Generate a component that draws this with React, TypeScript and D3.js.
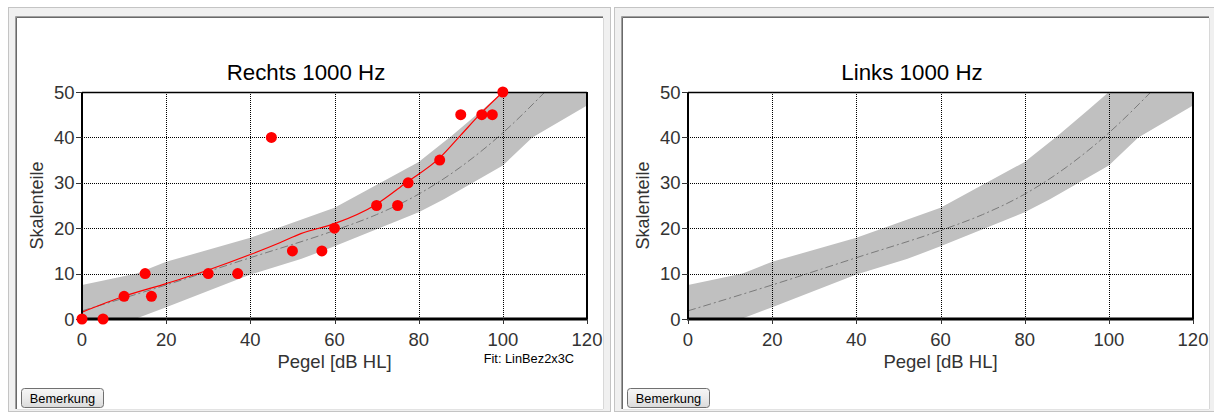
import React from "react";
import * as d3 from "d3";

const xTicks = [0, 20, 40, 60, 80, 100, 120];
const yTicks = [0, 10, 20, 30, 40, 50];

const upperX = [0, 13, 20, 40, 60, 80, 88, 95, 100, 120];
const upperY = [7.5, 10, 12.6, 17.9, 24.5, 34.6, 40.5, 46, 50, 62];
const lowerX = [0, 12.6, 20, 40, 52, 60, 80, 86, 100, 107, 120];
const lowerY = [-4, 0, 2.6, 9.8, 13.2, 16, 23.5, 26.4, 33.8, 40, 47];
const midX = [0, 20, 40, 60, 70, 80, 90, 100, 110];
const midY = [1.8, 7.5, 13.5, 19.5, 23, 27.5, 33.5, 41, 50];

const fitX = [0, 10, 20, 30, 40, 47, 52, 60, 70, 77, 85, 90, 95, 100];
const fitY = [1.5, 5, 7.8, 10.8, 14.2, 16.8, 18.8, 21, 25.3, 30, 35.5, 40.5, 45.5, 50];

const ptsX = [0, 5, 10, 15, 16.5, 30, 37, 45, 50, 57, 60, 70, 75, 77.5, 85, 90, 95, 97.5, 100];
const ptsY = [0, 0, 5, 10, 5, 10, 10, 40, 15, 15, 20, 25, 25, 30, 35, 45, 45, 45, 50];

const titles = ["Rechts 1000 Hz", "Links 1000 Hz"];

const FONT = "'Liberation Sans', Arial, sans-serif";

function Panel({ idx, title, showData }: { idx: number; title: string; showData: boolean }) {
  const off = idx * 606;
  const outerX = 8 + off;
  const innerX = 17 + off;
  const innerY = 18;
  const innerW = 586;
  const innerH = 391;
  const left = innerX + 65;
  const top = 92;
  const width = 505;
  const height = 227;
  const x = d3.scaleLinear().domain([0, 120]).range([left, left + width]);
  const y = d3.scaleLinear().domain([0, 50]).range([top + height, top]);

  const upper = upperX.map((v, i) => [v, upperY[i]] as [number, number]);
  const lower = lowerX.map((v, i) => [v, lowerY[i]] as [number, number]);
  const bandPts = [...upper, ...lower.slice().reverse()];
  const bandPath = d3.line<[number, number]>().x((d) => x(d[0])).y((d) => y(d[1]))(bandPts) + "Z";
  const midPath = d3.line<number>().x((d) => x(d)).y((_, i) => y(midY[i])).curve(d3.curveMonotoneX)(midX) || "";
  const fitPath = d3.line<number>().x((d) => x(d)).y((_, i) => y(fitY[i])).curve(d3.curveMonotoneX)(fitX) || "";
  const clipId = `clip${idx}`;
  const gradId = `btn${idx}`;

  return (
    <g>
      <defs>
        <clipPath id={clipId}>
          <rect x={left} y={top} width={width} height={height} />
        </clipPath>
        <linearGradient id={gradId} x1="0" y1="0" x2="0" y2="1">
          <stop offset="0" stopColor="#f6f6f6" />
          <stop offset="0.5" stopColor="#ebebeb" />
          <stop offset="1" stopColor="#dadada" />
        </linearGradient>
      </defs>
      {/* outer frame */}
      <rect x={outerX + 0.5} y={7.5} width={602} height={404} fill="#f0f0f0" stroke="#c4c4c4" />
      {/* inner sunken panel */}
      <rect x={innerX} y={innerY} width={innerW} height={innerH} fill="#ffffff" />
      <line x1={innerX - 1.5} y1={innerY - 1.5} x2={innerX + innerW} y2={innerY - 1.5} stroke="#a0a0a0" />
      <line x1={innerX - 1.5} y1={innerY - 1.5} x2={innerX - 1.5} y2={innerY + innerH} stroke="#a0a0a0" />
      <line x1={innerX - 0.5} y1={innerY - 0.5} x2={innerX + innerW} y2={innerY - 0.5} stroke="#696969" />
      <line x1={innerX - 0.5} y1={innerY - 0.5} x2={innerX - 0.5} y2={innerY + innerH} stroke="#696969" />
      <line x1={innerX + innerW + 0.5} y1={innerY} x2={innerX + innerW + 0.5} y2={innerY + innerH} stroke="#d8d8d8" />
      <line x1={innerX} y1={innerY + innerH + 0.5} x2={innerX + innerW} y2={innerY + innerH + 0.5} stroke="#e3e3e3" />

      {/* title */}
      <text x={innerX + innerW / 2 - 4} y={80} textAnchor="middle" fontFamily={FONT} fontSize={22.3} fill="#000">
        {title}
      </text>

      {/* band */}
      <g clipPath={`url(#${clipId})`}>
        <path d={bandPath} fill="#c0c0c0" stroke="none" />
      </g>

      {/* grid */}
      {xTicks.slice(1, -1).map((t) => (
        <line key={"gx" + t} x1={Math.round(x(t)) + 0.5} x2={Math.round(x(t)) + 0.5} y1={top} y2={top + height}
          stroke="#000" strokeDasharray="1,1" shapeRendering="crispEdges" />
      ))}
      {yTicks.slice(1, -1).map((t) => (
        <line key={"gy" + t} y1={Math.round(y(t)) + 0.5} y2={Math.round(y(t)) + 0.5} x1={left} x2={left + width}
          stroke="#000" strokeDasharray="1,1" shapeRendering="crispEdges" />
      ))}

      {/* middle dashed line and fit */}
      <g clipPath={`url(#${clipId})`}>
        <path d={midPath} fill="none" stroke="#7a7a7a" strokeWidth={1} strokeDasharray="8,3,2,3" />
        {showData && <path d={fitPath} fill="none" stroke="#ff0000" strokeWidth={1.2} />}
      </g>

      {/* axes / frame */}
      <line x1={left} x2={left + width} y1={top + 0.5} y2={top + 0.5} stroke="#000" strokeWidth={1.5} />
      <line x1={left + width} x2={left + width} y1={top} y2={top + height} stroke="#000" strokeWidth={2} />
      <line x1={left} x2={left} y1={top} y2={top + height + 1} stroke="#000" strokeWidth={2} />
      <line x1={left - 1} x2={left + width + 1} y1={top + height} y2={top + height} stroke="#000" strokeWidth={3} />

      {/* y ticks */}
      {yTicks.map((t) => (
        <g key={"yt" + t}>
          <line x1={left - 6} x2={left} y1={Math.round(y(t)) + 0.5} y2={Math.round(y(t)) + 0.5} stroke="#333" />
          <text x={left - 7.5} y={y(t) + 6.5} textAnchor="end" fontFamily={FONT} fontSize={18.5} fill="#333">
            {t}
          </text>
        </g>
      ))}
      {/* x ticks */}
      {xTicks.map((t) => (
        <g key={"xt" + t}>
          <line x1={Math.round(x(t)) + 0.5} x2={Math.round(x(t)) + 0.5} y1={top + height} y2={top + height + 5} stroke="#333" />
          <text x={x(t)} y={345.5} textAnchor="middle" fontFamily={FONT} fontSize={18.5} fill="#333">
            {t}
          </text>
        </g>
      ))}

      {/* axis titles */}
      <text x={left + width / 2} y={368} textAnchor="middle" fontFamily={FONT} fontSize={18.5} fill="#333">
        Pegel [dB HL]
      </text>
      <text transform={`translate(${innerX + 26},${top + height / 2}) rotate(-90)`} textAnchor="middle"
        fontFamily={FONT} fontSize={18} fill="#333">
        Skalenteile
      </text>

      {showData && (
        <text x={left + 492} y={363} textAnchor="end" fontFamily={FONT} fontSize={12.8} fill="#000">
          Fit: LinBez2x3C
        </text>
      )}

      {/* data points */}
      {showData &&
        ptsX.map((v, i) => <circle key={"p" + i} cx={x(v)} cy={y(ptsY[i])} r={5.5} fill="#ff0000" />)}

      {/* button */}
      <rect x={innerX + 4.5} y={388.5} width={82} height={19} rx={3} fill={`url(#${gradId})`} stroke="#707070" />
      <text x={innerX + 45.5} y={403} textAnchor="middle" fontFamily={FONT} fontSize={12.8} fill="#000">
        Bemerkung
      </text>
    </g>
  );
}

export default function App() {
  return (
    <svg width={1214} height={412} style={{ position: "absolute", left: 0, top: 0, background: "#fff" }}>
      <rect x={0} y={0} width={1214} height={412} fill="#ffffff" />
      {titles.map((t, i) => (
        <Panel key={t} idx={i} title={t} showData={i === 0} />
      ))}
    </svg>
  );
}
